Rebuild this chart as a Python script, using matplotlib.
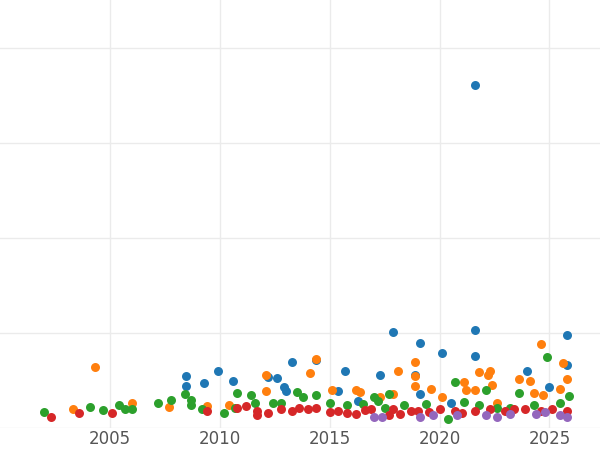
import matplotlib
matplotlib.use("Agg")
import matplotlib.pyplot as plt

# valeurs (année, valeur)
blue_x = [2008.45, 2008.45, 2009.3, 2009.9, 2010.6, 2012.2, 2012.6, 2012.9, 2013.0, 2013.3, 2014.4,
          2015.7, 2015.4, 2016.3, 2017.3, 2017.9, 2019.1, 2018.9, 2020.1, 2020.5, 2021.6, 2021.6,
          2021.6, 2024.0, 2025.0, 2025.8, 2025.8, 2019.1]
blue_y = [54, 44, 47, 59, 49, 53, 52, 43, 38, 69, 71, 60, 38, 28, 55, 101, 89, 55, 78, 26, 361, 103,
          75, 60, 43, 97, 66, 35]

orange_x = [2004.3, 2003.3, 2006.0, 2007.7, 2009.4, 2010.4, 2012.1, 2012.1, 2014.1, 2014.4, 2015.1,
            2016.2, 2016.4, 2017.3, 2017.9, 2018.1, 2018.9, 2018.9, 2018.9, 2019.6, 2020.1, 2021.1,
            2021.2, 2021.8, 2021.6, 2022.2, 2022.3, 2022.4, 2022.6, 2023.6, 2024.1, 2024.6, 2024.3,
            2024.7, 2025.6, 2025.5, 2025.8]
orange_y = [64, 19, 26, 22, 23, 24, 55, 38, 57, 72, 39, 40, 37, 32, 35, 60, 69, 44, 54, 41, 32, 48,
            40, 58, 40, 55, 60, 45, 26, 51, 49, 88, 36, 34, 68, 41, 51]

green_x = [2002.0, 2004.1, 2004.7, 2005.4, 2005.7, 2006.0, 2007.2, 2007.8, 2008.4, 2008.7, 2008.7,
           2009.2, 2010.2, 2010.8, 2010.7, 2011.4, 2011.6, 2012.4, 2012.8, 2013.5, 2013.8, 2014.4,
           2015.0, 2015.8, 2016.5, 2017.0, 2017.2, 2017.7, 2017.5, 2018.4, 2019.4, 2020.4, 2020.7,
           2021.1, 2022.1, 2021.8, 2022.6, 2023.2, 2023.6, 2024.3, 2025.5, 2025.9, 2024.9]
green_y = [16, 22, 18, 24, 19, 19, 26, 29, 35, 29, 24, 20, 15, 36, 21, 34, 26, 26, 26, 37, 32, 34,
           26, 24, 25, 32, 28, 35, 21, 24, 25, 9, 48, 27, 40, 24, 21, 21, 36, 24, 26, 33, 74]

red_x = [2002.3, 2003.6, 2005.1, 2009.4, 2010.8, 2011.2, 2011.7, 2011.7, 2012.2, 2012.8, 2013.3,
         2013.6, 2014.0, 2014.4, 2015.0, 2015.4, 2015.8, 2016.2, 2016.6, 2016.9, 2017.7, 2017.9,
         2018.2, 2018.7, 2019.0, 2019.5, 2020.0, 2020.7, 2021.0, 2021.6, 2022.3, 2023.0, 2023.4,
         2023.9, 2024.6, 2025.1, 2025.8]
red_y = [11, 15, 15, 17, 21, 23, 17, 13, 15, 19, 17, 21, 19, 21, 16, 17, 15, 14, 18, 19, 13, 19,
         14, 17, 17, 16, 19, 17, 15, 17, 19, 17, 19, 19, 17, 19, 17]

purple_x = [2017.0, 2017.4, 2019.1, 2019.7, 2020.8, 2022.1, 2022.6, 2023.2, 2024.4, 2024.8, 2025.5, 2025.8]
purple_y = [11, 11, 11, 13, 13, 13, 11, 14, 14, 16, 13, 11]

series = [
    (blue_x, blue_y, "#1f77b4"),
    (orange_x, orange_y, "#ff7f0e"),
    (green_x, green_y, "#2ca02c"),
    (red_x, red_y, "#d62728"),
    (purple_x, purple_y, "#9467bd"),
]

fig = plt.figure(figsize=(6, 4.5), dpi=100)
ax = fig.add_axes([0, 0.05, 1, 0.95])

for xs, ys, c in series:
    ax.scatter(xs, ys, s=42, color=c, zorder=3, linewidths=0)

ax.set_xlim(2000, 2027.3)
ax.set_ylim(0, 450)
ax.set_xticks([2005, 2010, 2015, 2020, 2025])
ax.set_yticks([0, 100, 200, 300, 400])
ax.tick_params(axis="y", length=0, labelleft=False)
ax.tick_params(axis="x", length=0, labelsize=12, labelcolor="#555555", pad=2)
ax.grid(True, color="#ebebeb", linewidth=1)
ax.set_axisbelow(True)
for s in ax.spines.values():
    s.set_visible(False)

fig.savefig("out.png")
